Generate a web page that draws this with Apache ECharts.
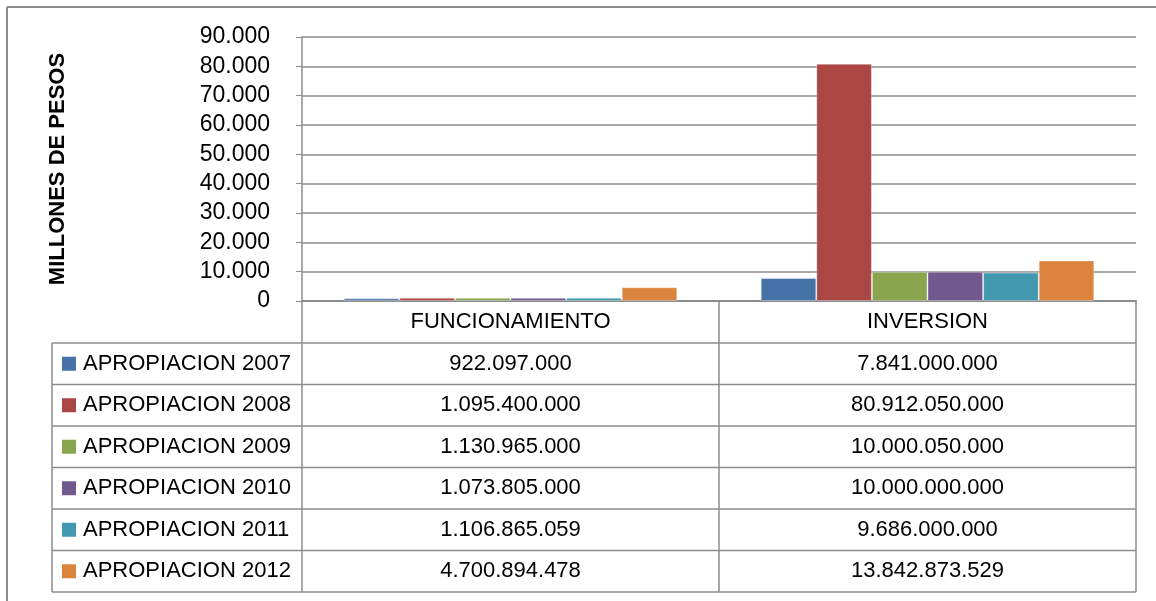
<!DOCTYPE html>
<html>
<head>
<meta charset="utf-8">
<script src="https://cdn.jsdelivr.net/npm/echarts@6/dist/echarts.min.js"></script>
<style>
  html, body { margin: 0; padding: 0; background: #fff; }
  #chart { width: 1156px; height: 601px; }
</style>
</head>
<body>
<div id="chart"></div>
<script>
// datos (pesos)
var categories = ['FUNCIONAMIENTO', 'INVERSION'];
var seriesNames = ['APROPIACION 2007', 'APROPIACION 2008', 'APROPIACION 2009',
  'APROPIACION 2010', 'APROPIACION 2011', 'APROPIACION 2012'];
var funcionamiento = [922097000, 1095400000, 1130965000, 1073805000, 1106865059, 4700894478];
var inversion = [7841000000, 80912050000, 10000050000, 10000000000, 9686000000, 13842873529];
var yTicks = [0, 10000, 20000, 30000, 40000, 50000, 60000, 70000, 80000, 90000];

var colors = ['#4573A7', '#AA4644', '#89A54E', '#71588F', '#4198AF', '#DB843D'];
var lineColor = '#8c8c8c';
var font = 'Liberation Sans';

// geometria
var gridLeft = 302, gridRightX = 1136, gridTop = 37, axisY = 301;
var tableLeft = 52, headerBottom = 343, rowH = 41.5;

function miles(v) {
  return String(v).replace(/\B(?=(\d{3})+(?!\d))/g, '.');
}

var chartDom = document.getElementById('chart');
var myChart = echarts.init(chartDom);

var series = seriesNames.map(function (name, i) {
  return {
    name: name,
    type: 'bar',
    barGap: 0,
    barCategoryGap: '20%',
    itemStyle: { color: colors[i], borderColor: 'rgba(255,255,255,0.35)', borderWidth: 1 },
    data: [funcionamiento[i] / 1e6, inversion[i] / 1e6]
  };
});

// tabla de datos
var graphics = [];
graphics.push({ type: 'line', shape: { x1: 7, y1: 7, x2: 1156, y2: 7 }, style: { stroke: lineColor, lineWidth: 2 } });
graphics.push({ type: 'line', shape: { x1: 7, y1: 7, x2: 7, y2: 601 }, style: { stroke: lineColor, lineWidth: 2 } });

var tableBottom = headerBottom + rowH * seriesNames.length;
var colMid = (gridLeft + gridRightX) / 2;
for (var r = 0; r <= seriesNames.length; r++) {
  var y = headerBottom + rowH * r;
  graphics.push({ type: 'line', shape: { x1: tableLeft, y1: y, x2: gridRightX, y2: y }, style: { stroke: lineColor, lineWidth: 1.5 } });
}
[tableLeft, gridLeft, colMid, gridRightX].forEach(function (x) {
  graphics.push({ type: 'line', shape: { x1: x, y1: headerBottom, x2: x, y2: tableBottom }, style: { stroke: lineColor, lineWidth: 1.5 } });
});
var cols = [funcionamiento, inversion];
seriesNames.forEach(function (name, i) {
  var cy = headerBottom + rowH * i + rowH / 2;
  graphics.push({ type: 'rect', shape: { x: 62, y: cy - 7, width: 14, height: 14 }, style: { fill: colors[i] } });
  graphics.push({ type: 'text', x: 83, y: cy, style: { text: name, font: '22px "' + font + '"', fill: '#000', textVerticalAlign: 'middle', textAlign: 'left' } });
  cols.forEach(function (col, c) {
    var cx = gridLeft + (gridRightX - gridLeft) * (c + 0.5) / cols.length;
    graphics.push({ type: 'text', x: cx, y: cy, style: { text: miles(col[i]), font: '22px "' + font + '"', fill: '#000', textVerticalAlign: 'middle', textAlign: 'center' } });
  });
});

var option = {
  animation: false,
  grid: { left: gridLeft, right: 1156 - gridRightX, top: gridTop, bottom: 601 - axisY },
  xAxis: {
    type: 'category',
    data: categories,
    axisLine: { lineStyle: { color: lineColor, width: 2 } },
    axisTick: { show: true, length: headerBottom - axisY, lineStyle: { color: lineColor, width: 1.5 } },
    axisLabel: { color: '#000', fontFamily: font, fontSize: 22, margin: 10 }
  },
  yAxis: {
    type: 'value',
    min: yTicks[0],
    max: yTicks[yTicks.length - 1],
    interval: yTicks[1] - yTicks[0],
    name: 'MILLONES DE PESOS',
    nameLocation: 'middle',
    nameRotate: 90,
    nameGap: 233,
    nameTextStyle: { color: '#000', fontFamily: font, fontSize: 22, fontWeight: 'bold' },
    axisLine: { show: true, lineStyle: { color: lineColor, width: 1.5 } },
    axisTick: { show: true, length: 6, lineStyle: { color: lineColor } },
    axisLabel: { color: '#000', fontFamily: font, fontSize: 23, margin: 32, formatter: function (v) { return miles(v); } },
    splitLine: { lineStyle: { color: lineColor, width: 1.5 } }
  },
  series: series,
  graphic: graphics
};

option && myChart.setOption(option);
</script>
</body>
</html>
